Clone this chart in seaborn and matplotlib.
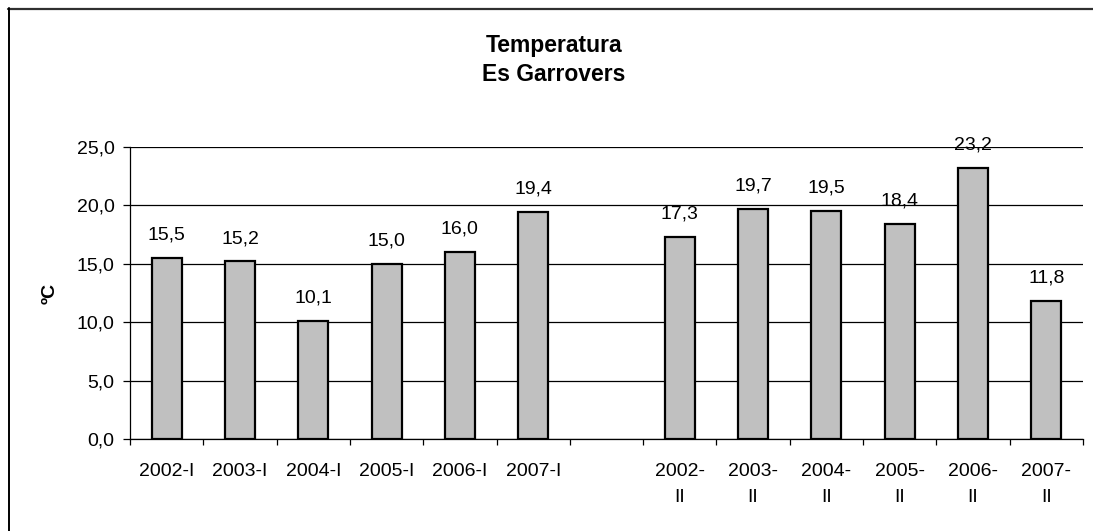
import numpy as np
import pandas as pd
import matplotlib
matplotlib.use("Agg")
import matplotlib.pyplot as plt
import seaborn as sns
from matplotlib.lines import Line2D

categories = ["2002-I", "2003-I", "2004-I", "2005-I", "2006-I", "2007-I", "",
              "2002-\nII", "2003-\nII", "2004-\nII", "2005-\nII", "2006-\nII", "2007-\nII"]
values = [15.5, 15.2, 10.1, 15.0, 16.0, 19.4, np.nan,
          17.3, 19.7, 19.5, 18.4, 23.2, 11.8]
yticks = [0, 5, 10, 15, 20, 25]
title = "Temperatura\nEs Garrovers"
ylabel = "ºC"

sns.set_theme(style="white")
plt.rcParams['font.family'] = ['Liberation Sans', 'DejaVu Sans']
plt.rcParams['text.color'] = 'black'
plt.rcParams['xtick.color'] = 'black'
plt.rcParams['ytick.color'] = 'black'
plt.rcParams['axes.labelcolor'] = 'black'

FS = 14

df = pd.DataFrame({"cat": categories, "val": values})

fig = plt.figure(figsize=(10.93, 5.31), dpi=100)
ax = fig.add_axes([130/1093, 1 - 439/531, (1083-130)/1093, (439-147)/531])

sns.barplot(data=df, x="cat", y="val", order=categories, color="#C0C0C0",
            width=0.41, edgecolor="black", linewidth=1.6, saturation=1, ax=ax, zorder=3)

ax.set_ylim(0, 25)
ax.set_xlim(-0.5, len(categories) - 0.5)
ax.set_yticks(yticks)
ax.set_yticklabels([f"{v:.1f}".replace(".", ",") for v in yticks], fontsize=FS)
ax.yaxis.grid(True, color="black", linewidth=0.9)
ax.set_axisbelow(True)

ax.set_xticks(range(len(categories)))
ax.set_xticklabels(categories, fontsize=FS, linespacing=1.7, va="top")
ax.set_xticks(np.arange(-0.5, len(categories)), minor=True)
ax.tick_params(axis="x", which="major", length=0, pad=17)
ax.tick_params(axis="x", which="minor", length=4.5, width=0.9, color="black", direction="out", bottom=True)
ax.tick_params(axis="y", length=5, width=0.9, color="black", direction="out", left=True, pad=6)

for s in ["top", "right"]:
    ax.spines[s].set_visible(False)
for s in ["left", "bottom"]:
    ax.spines[s].set_color("black")
    ax.spines[s].set_linewidth(0.9)

ax.set_xlabel("")
ax.set_ylabel(ylabel, fontsize=FS, fontweight="bold", labelpad=13)

for i, v in enumerate(values):
    if not np.isnan(v):
        ax.annotate(f"{v:.1f}".replace(".", ","), xy=(i, v), xytext=(0, 16.5),
                    textcoords="offset points", ha="center", va="center", fontsize=FS)

fig.text(554/1093, 1 - 60/531, title, ha="center", va="center", fontsize=16.5,
         fontweight="bold", linespacing=1.35)

# Figure border (only top and left edges are visible in the reference)
fig.add_artist(Line2D([8/1093, 1.0], [1 - 8.5/531] * 2, transform=fig.transFigure,
                      color="#303030", linewidth=1.6))
fig.add_artist(Line2D([8.5/1093] * 2, [0.0, 1 - 8/531], transform=fig.transFigure,
                      color="black", linewidth=1.4))

fig.savefig("out.png", dpi=100)
